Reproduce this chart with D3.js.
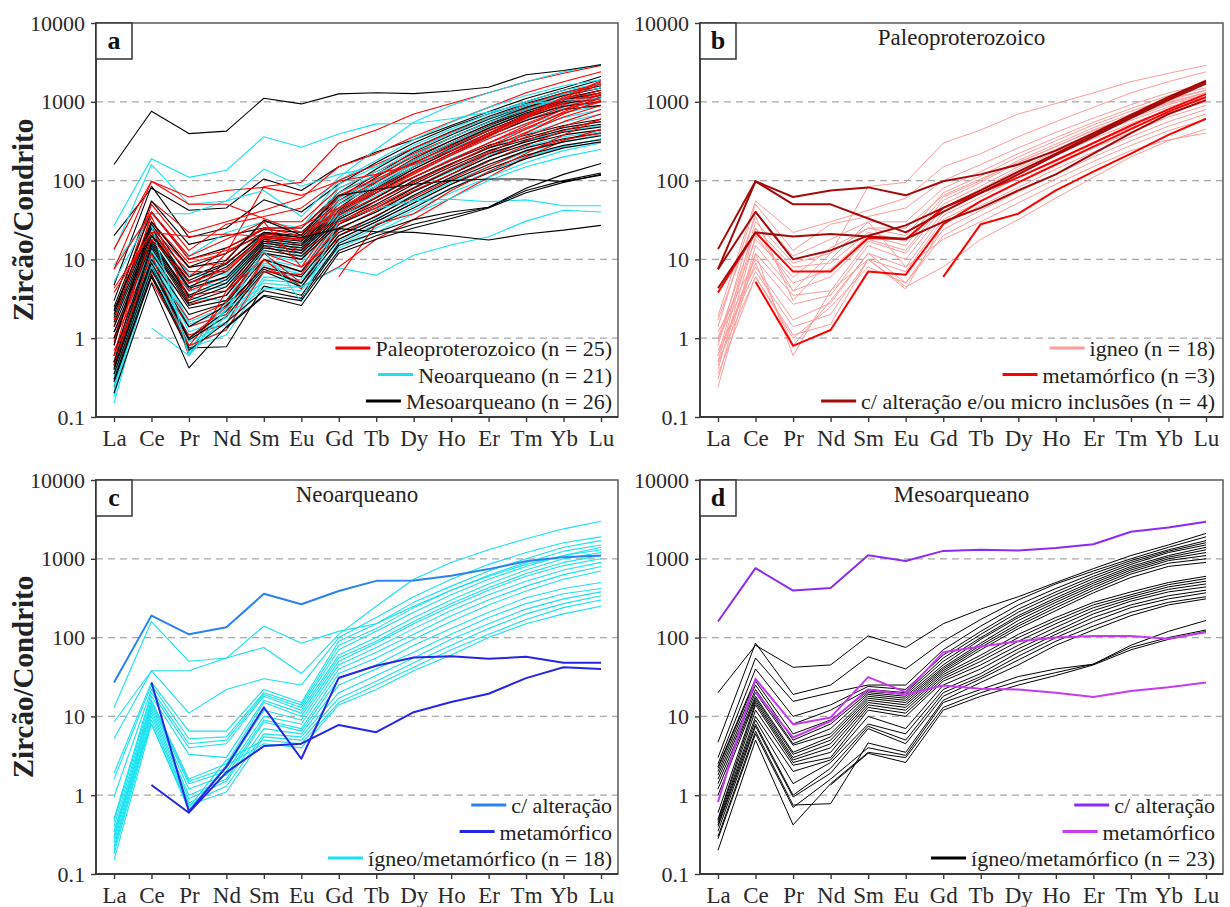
<!DOCTYPE html>
<html>
<head>
<meta charset="utf-8">
<script src="https://cdn.jsdelivr.net/npm/d3@7"></script>
<style>
  body { margin: 0; background: #fff; }
</style>
</head>
<body>
<svg id="fig" width="1230" height="907"></svg>
<script>
// REE order and y ticks
const elements = ['La','Ce','Pr','Nd','Sm','Eu','Gd','Tb','Dy','Ho','Er','Tm','Yb','Lu'];
const yTickValues = [0.1, 1, 10, 100, 1000, 10000];
const gridValues = [1, 10, 100, 1000];
const serif = '"Liberation Serif", "Times New Roman", serif';

// ---- Paleoproterozoico ----
const paleoIgneo = [
  [1.0, 25, 4.0, 12, 84, 95, 300, 440, 700, 950, 1300, 1800, 2300, 2900],
  [1.9, 55, 22, 30, 42, 60, 150, 220, 360, 560, 850, 1300, 1800, 2400],
  [1.4, 50, 13, 28, 35, 45, 100, 160, 260, 410, 620, 920, 1300, 1700],
  [0.8, 40, 11, 18, 30, 30, 80, 130, 220, 350, 550, 820, 1200, 1500],
  [0.6, 30, 9, 12, 25, 20, 70, 115, 200, 320, 510, 760, 1100, 1400],
  [0.5, 25, 8, 9, 22, 17, 62, 100, 180, 290, 470, 700, 1050, 1400],
  [0.4, 20, 5, 7.5, 20, 15, 56, 95, 170, 270, 440, 650, 1000, 1300],
  [0.3, 15, 4, 6, 18, 13, 50, 85, 150, 250, 400, 620, 920, 1250],
  [0.24, 12, 3.5, 4, 17, 12, 45, 78, 140, 235, 380, 580, 860, 1150],
  [1.2, 10, 2.7, 3.5, 15, 10, 40, 70, 125, 210, 340, 530, 800, 1100],
  [1.0, 8, 1.7, 2.8, 12, 8, 36, 62, 110, 185, 300, 470, 720, 1000],
  [0.7, 7, 1.4, 2.0, 10, 7, 32, 55, 95, 160, 260, 410, 640, 900],
  [0.5, 6, 1.1, 1.5, 10, 4.2, 28, 48, 82, 140, 230, 360, 560, 800],
  [0.35, 6, 1.0, 2.5, 8, 5, 24, 42, 72, 120, 200, 320, 490, 700],
  [0.6, 9, 0.8, 3.0, 12, 5, 20, 36, 62, 105, 175, 280, 430, 600],
  [0.45, 12, 0.6, 4.0, 10, 4.5, 8, 18, 32, 60, 110, 200, 320, 450],
  [1.7, 35, 3.0, 10, 30, 8, 18, 30, 52, 90, 150, 240, 330, 400],
  [0.9, 18, 6.0, 14, 25, 25, 65, 105, 170, 270, 430, 650, 960, 1300]
];
const paleoMeta = [
  [3.8, 22, 7.0, 7.0, 18.7, 18, 45, 70, 110, 180, 300, 500, 800, 1250],
  [null, 5.2, 0.8, 1.27, 7.0, 6.4, 28, 55, 95, 160, 270, 450, 750, 1150],
  [null, null, null, null, null, null, 6, 28, 38, 75, 130, 220, 380, 610]
];
const paleoAlter = [
  [13.5, 98, 62, 75, 82, 65, 98, 120, 160, 240, 400, 680, 1150, 1850],
  [7.5, 40, 10, 13, 20, 27, 45, 75, 130, 220, 380, 650, 1100, 1800],
  [7.5, 98, 50, 50, 33, 22, 40, 70, 120, 210, 360, 620, 1050, 1700],
  [4.3, 22, 19.5, 21, 19.5, 18.3, 30, 45, 75, 120, 220, 400, 700, 1050]
];

// ---- Neoarqueano ----
const neoIgneoMeta = [
  [13, 160, 50, 55, 140, 85, 120, 150, 250, 400, 600, 850, 1100, 1400],
  [8.5, 38, 38, 55, 75, 35, 110, 250, 550, 900, 1300, 1800, 2400, 3000],
  [5.2, 38, 11, 22, 30, 25, 100, 180, 330, 550, 850, 1200, 1600, 1900],
  [1.9, 27, 6.5, 6.5, 22, 15, 90, 150, 280, 450, 700, 1000, 1400, 1700],
  [1.6, 25, 5.2, 5.5, 20, 14, 80, 130, 240, 400, 620, 900, 1250, 1500],
  [0.95, 22, 4.5, 5, 19, 13, 70, 120, 210, 350, 550, 800, 1100, 1300],
  [0.5, 20, 4, 4.5, 18, 12, 60, 100, 180, 300, 480, 720, 1000, 1200],
  [0.46, 18, 3.3, 3, 16, 11, 55, 90, 160, 270, 430, 650, 900, 1100],
  [0.4, 16, 1.6, 2.5, 15, 10, 50, 85, 150, 250, 400, 600, 820, 1000],
  [0.34, 15, 1.5, 2.2, 12, 9, 45, 75, 130, 220, 350, 520, 720, 900],
  [0.3, 14, 1.4, 2, 10, 8, 40, 65, 110, 190, 300, 450, 630, 800],
  [0.28, 13, 1.2, 1.8, 9, 7, 35, 55, 95, 160, 260, 390, 550, 700],
  [0.25, 12, 1.0, 1.6, 8.5, 6.5, 30, 45, 80, 130, 210, 320, 420, 500],
  [0.22, 11, 0.9, 1.5, 7, 6, 25, 40, 65, 110, 180, 270, 360, 420],
  [0.2, 10, 0.8, 1.3, 6, 5.5, 20, 33, 55, 95, 150, 230, 310, 380],
  [0.18, 9, 0.75, 1.1, 5.5, 5, 17, 28, 48, 80, 130, 200, 270, 340],
  [0.15, 8, 0.7, 2.8, 5, 4.5, 15, 25, 42, 70, 110, 170, 240, 300],
  [0.35, 8, 0.65, 2.4, 4.5, 4, 14, 22, 38, 60, 100, 150, 200, 250]
];
const neoAlter = [
  [27, 190, 110, 135, 360, 265, 390, 525, 530, 610, 740, 930, 1050, 1100]
];
const neoMeta = [
  [null, 1.35, 0.6, 1.95, 4.2, 4.5, 7.8, 6.3, 11.3, 15.2, 19.4, 30.6, 42, 40],
  [null, 27, 0.62, 2.3, 13, 2.9, 31, 44, 56, 58, 54, 57, 48, 48]
];

// ---- Mesoarqueano ----
const mesoIgneoMeta = [
  [20, 80, 42, 45, 105, 75, 150, 230, 330, 500, 750, 1100, 1500, 2100],
  [4.7, 85, 19, 25, 57, 40, 90, 170, 300, 480, 700, 1000, 1400, 1900],
  [3.0, 55, 15.5, 20, 25, 25, 70, 140, 260, 420, 650, 950, 1300, 1700],
  [2.5, 40, 10, 14, 24, 22, 60, 120, 230, 380, 600, 900, 1250, 1600],
  [2.3, 30, 8, 12, 22, 20, 55, 110, 210, 350, 560, 850, 1200, 1500],
  [2.2, 28, 6, 9, 21, 19, 50, 100, 190, 320, 520, 800, 1100, 1400],
  [2.0, 25, 5, 8, 20, 18, 45, 95, 180, 300, 490, 760, 1050, 1300],
  [1.8, 22, 4.5, 7, 19, 17, 42, 85, 165, 280, 460, 720, 1000, 1200],
  [1.6, 20, 4.3, 6, 18, 16, 40, 80, 150, 260, 430, 680, 950, 1100],
  [1.4, 18, 3.5, 5.5, 17, 15, 38, 75, 140, 240, 400, 640, 880, 1000],
  [1.2, 17, 3.3, 5, 16, 14, 36, 70, 130, 220, 370, 580, 800, 900],
  [1.0, 16, 3.0, 4.5, 15, 13, 34, 60, 110, 180, 280, 380, 500, 600],
  [0.6, 15, 2.8, 4, 14, 12, 32, 55, 100, 165, 260, 350, 470, 560],
  [0.5, 14, 2.6, 3.5, 13, 11, 30, 50, 90, 150, 240, 330, 440, 520],
  [0.48, 12, 2.4, 3, 12, 10, 28, 45, 80, 135, 220, 310, 410, 480],
  [0.45, 10, 2.0, 2.8, 10, 7, 25, 40, 72, 120, 200, 290, 380, 440],
  [0.42, 9, 1.4, 2.6, 8, 6, 22, 35, 65, 110, 180, 260, 340, 400],
  [0.4, 8, 1.0, 2.2, 7.5, 5, 20, 32, 58, 100, 160, 240, 310, 370],
  [0.35, 7.5, 0.95, 1.9, 7, 4.5, 18, 30, 52, 90, 140, 210, 280, 330],
  [0.3, 6.5, 0.75, 0.78, 4.6, 3.5, 16, 27, 45, 80, 125, 190, 260, 310],
  [0.28, 6, 0.7, 1.6, 4, 3.2, 15, 22, 32, 40, 46, 80, 120, 165],
  [0.2, 5, 0.42, 1.4, 3.5, 3, 13, 20, 28, 36, 46, 75, 100, 125],
  [null, null, null, 1.35, 3.4, 2.6, 12, 18, 25, 33, 45, 70, 95, 120]
];
const mesoAlter = [
  [160, 760, 395, 425, 1110, 940, 1260, 1300, 1270, 1370, 1530, 2200, 2500, 2950]
];
const mesoMeta = [
  [0.82, 30, 7.9, 9.7, 31.5, 20.3, 65, 77, 90, 100, 105, 105, 97, 117],
  [null, 20.3, 5.4, 8.7, 22, 19, 24.6, 22.4, 22, 20, 17.6, 21, 23.5, 27]
];

// colours
const cRed = '#ff0000', cCyan = '#18e2f0', cBlack = '#000000';
const cPink = '#ff9c9c', cDarkRed = '#a50a0a';
const cBlueAlt = '#2a82f2', cBlueMeta = '#2626e4';
const cPurple = '#8a2cf4', cMagenta = '#c83af2';

const paleoAll = paleoIgneo.concat(paleoMeta, paleoAlter);
const neoAll = neoIgneoMeta.concat(neoAlter, neoMeta);
const mesoAll = mesoIgneoMeta.concat(mesoAlter, mesoMeta);

// panel a: the three ages drawn interleaved so no colour sits fully on top
const allAges = [];
d3.range(d3.max([paleoAll.length, neoAll.length, mesoAll.length])).forEach(i => {
  if (mesoAll[i]) allAges.push({ v: mesoAll[i], color: cBlack, width: 1.1 });
  if (neoAll[i]) allAges.push({ v: neoAll[i], color: cCyan, width: 1.1 });
  if (paleoAll[i]) allAges.push({ v: paleoAll[i], color: cRed, width: 1.1 });
});

function asPaths(data, color, width) {
  return data.map(v => ({ v: v, color: color, width: width }));
}

const panels = [
  { letter: 'a', x0: 96, x1: 618, y0: 23, y1: 417, title: null, yLabel: true,
    paths: allAges,
    legendX: 612,
    legend: [
      { label: 'Paleoproterozoico (n = 25)', color: cRed },
      { label: 'Neoarqueano (n = 21)', color: cCyan },
      { label: 'Mesoarqueano (n = 26)', color: cBlack }
    ] },
  { letter: 'b', x0: 700, x1: 1223, y0: 23, y1: 417, title: 'Paleoproterozoico', yLabel: false,
    paths: asPaths(paleoIgneo, cPink, 1).concat(asPaths(paleoMeta, cRed, 2), asPaths(paleoAlter, cDarkRed, 2)),
    legendX: 1215,
    legend: [
      { label: 'igneo (n = 18)', color: cPink },
      { label: 'metamórfico (n =3)', color: cRed },
      { label: 'c/ alteração e/ou micro inclusões (n = 4)', color: cDarkRed }
    ] },
  { letter: 'c', x0: 96, x1: 618, y0: 480, y1: 874, title: 'Neoarqueano', yLabel: true,
    paths: asPaths(neoIgneoMeta, cCyan, 1.1).concat(asPaths(neoAlter, cBlueAlt, 2), asPaths(neoMeta, cBlueMeta, 2)),
    legendX: 612,
    legend: [
      { label: 'c/ alteração', color: cBlueAlt },
      { label: 'metamórfico', color: cBlueMeta },
      { label: 'ígneo/metamórfico (n = 18)', color: cCyan }
    ] },
  { letter: 'd', x0: 700, x1: 1223, y0: 480, y1: 874, title: 'Mesoarqueano', yLabel: false,
    paths: asPaths(mesoIgneoMeta, cBlack, 1).concat(asPaths(mesoAlter, cPurple, 2), asPaths(mesoMeta, cMagenta, 2)),
    legendX: 1215,
    legend: [
      { label: 'c/ alteração', color: cPurple },
      { label: 'metamórfico', color: cMagenta },
      { label: 'ígneo/metamórfico (n = 23)', color: cBlack }
    ] }
];

const svg = d3.select('#fig');

function drawPanel(p) {
  const x = d3.scalePoint().domain(elements).range([p.x0 + 18, p.x1 - 17]);
  const y = d3.scaleLog().domain([0.1, 10000]).range([p.y1, p.y0]);
  const g = svg.append('g').attr('class', 'panel-' + p.letter);

  // dashed grid
  g.selectAll('line.grid')
    .data(gridValues)
    .enter()
    .append('line')
      .attr('class', 'grid')
      .attr('x1', p.x0).attr('x2', p.x1)
      .attr('y1', d => y(d)).attr('y2', d => y(d))
      .style('stroke', '#a8a8a8')
      .style('stroke-width', 1.2)
      .style('stroke-dasharray', '7,5');

  // REE patterns
  const line = d3.line()
    .defined(d => d != null)
    .x((d, i) => x(elements[i]))
    .y(d => y(d));

  g.append('g')
    .selectAll('path')
    .data(p.paths)
    .enter()
    .append('path')
      .attr('d', d => line(d.v))
      .style('fill', 'none')
      .style('stroke', d => d.color)
      .style('stroke-width', d => d.width)
      .style('stroke-linejoin', 'round');

  // frame
  g.append('rect')
    .attr('x', p.x0).attr('y', p.y0)
    .attr('width', p.x1 - p.x0).attr('height', p.y1 - p.y0)
    .style('fill', 'none')
    .style('stroke', '#5a5a5a')
    .style('stroke-width', 1.5);
  g.append('path')
    .attr('d', `M${p.x0},${p.y0}V${p.y1}H${p.x1}`)
    .style('fill', 'none')
    .style('stroke', '#3a3a3a')
    .style('stroke-width', 1.8);

  // axes
  const yAxis = g.append('g')
    .attr('transform', `translate(${p.x0},0)`)
    .call(d3.axisLeft(y).tickValues(yTickValues).tickFormat(d => String(d)).tickSize(5).tickPadding(6));
  const xAxis = g.append('g')
    .attr('transform', `translate(0,${p.y1})`)
    .call(d3.axisBottom(x).tickSize(5).tickPadding(8));
  [yAxis, xAxis].forEach(ax => {
    ax.select('.domain').remove();
    ax.selectAll('line').style('stroke', '#3a3a3a').style('stroke-width', 1.4);
    ax.selectAll('text')
      .style('font-family', serif)
      .style('font-size', '22px')
      .style('fill', '#2a2a2a');
  });
  xAxis.selectAll('text').style('font-size', '23px');

  // letter box
  g.append('rect')
    .attr('x', p.x0).attr('y', p.y0)
    .attr('width', 36).attr('height', 36)
    .style('fill', '#fff')
    .style('stroke', '#333')
    .style('stroke-width', 1.5);
  g.append('text')
    .text(p.letter)
    .attr('x', p.x0 + 18).attr('y', p.y0 + 26)
    .attr('text-anchor', 'middle')
    .style('font-family', serif)
    .style('font-size', '26px')
    .style('font-weight', 'bold')
    .style('fill', '#111');

  if (p.title) {
    g.append('text')
      .text(p.title)
      .attr('x', (p.x0 + p.x1) / 2).attr('y', p.y0 + 22)
      .attr('text-anchor', 'middle')
      .style('font-family', serif)
      .style('font-size', '23px')
      .style('fill', '#222');
  }

  if (p.yLabel) {
    const cy = (p.y0 + p.y1) / 2;
    g.append('text')
      .text('Zircão/Condrito')
      .attr('x', 33).attr('y', cy)
      .attr('text-anchor', 'middle')
      .attr('transform', `rotate(-90, 33, ${cy})`)
      .style('font-family', serif)
      .style('font-size', '29px')
      .style('font-weight', 'bold')
      .style('fill', '#222');
  }

  // legend, right aligned
  p.legend.forEach((item, i) => {
    const ly = p.y0 + 325 + i * 26.5;
    const t = g.append('text')
      .text(item.label)
      .attr('x', p.legendX).attr('y', ly + 8)
      .attr('text-anchor', 'end')
      .style('font-family', serif)
      .style('font-size', '22px')
      .style('fill', '#222');
    const w = t.node().getComputedTextLength();
    g.append('line')
      .attr('x1', p.legendX - w - 40).attr('x2', p.legendX - w - 5)
      .attr('y1', ly).attr('y2', ly)
      .style('stroke', item.color)
      .style('stroke-width', 3);
  });
}

panels.forEach(drawPanel);
</script>
</body>
</html>
